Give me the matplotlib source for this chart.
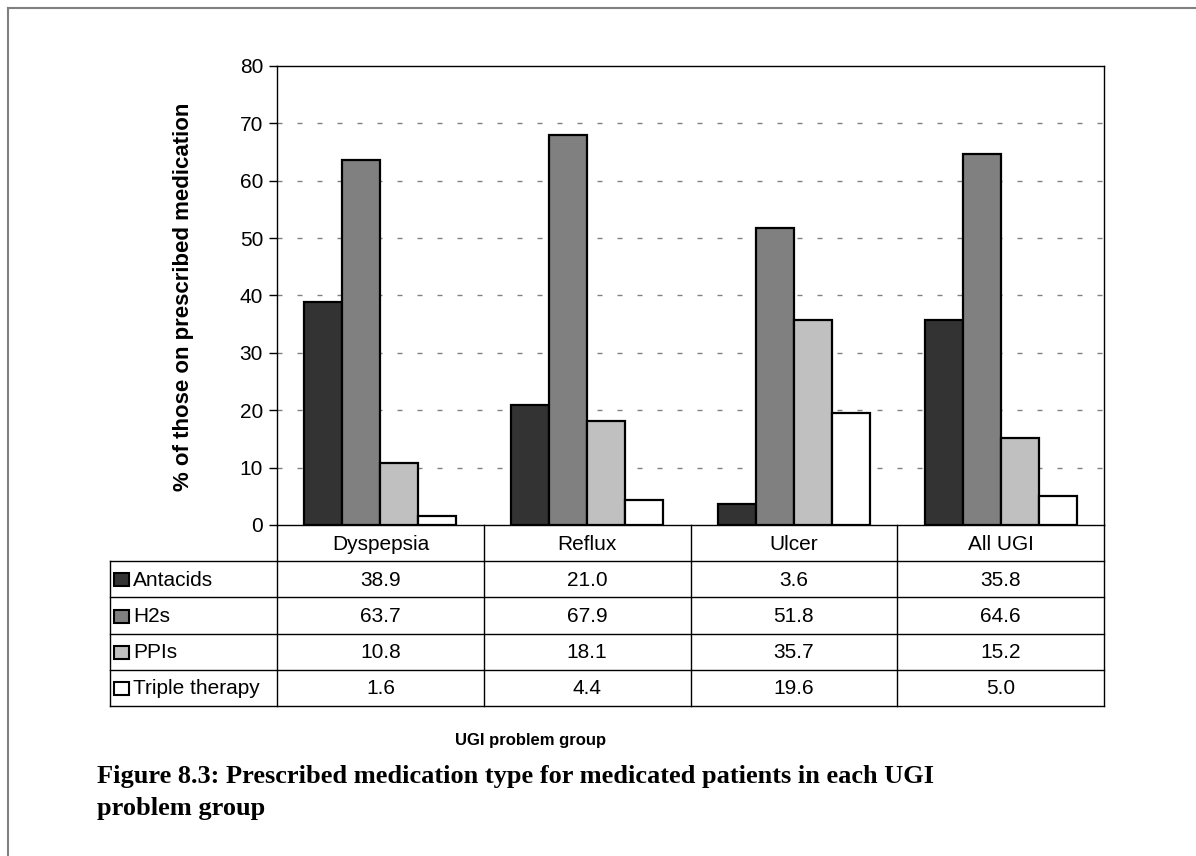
import numpy as np
import matplotlib.pyplot as plt

# data
groups = ["Dyspepsia", "Reflux", "Ulcer", "All UGI"]
series = ["Antacids", "H2s", "PPIs", "Triple therapy"]
antacids = [38.9, 21.0, 3.6, 35.8]
h2s = [63.7, 67.9, 51.8, 64.6]
ppis = [10.8, 18.1, 35.7, 15.2]
triple = [1.6, 4.4, 19.6, 5.0]
values = [antacids, h2s, ppis, triple]
colors = ["#333333", "#808080", "#c0c0c0", "#ffffff"]
caption = ["Figure 8.3: Prescribed medication type for medicated patients in each UGI",
           "problem group"]

plt.rcParams['font.family'] = ['Liberation Sans', 'DejaVu Sans']

W, H = 1196, 856
fig = plt.figure(figsize=(W / 100, H / 100), dpi=100)

# layout in pixels
ax_l, ax_r, ax_t, ax_b = 277, 1104, 66, 525
tab_l = 110
row_h = 36.2

ax = fig.add_axes([ax_l / W, 1 - ax_b / H, (ax_r - ax_l) / W, (ax_b - ax_t) / H])
x = np.arange(len(groups))
w = 0.184
for i, (name, vals) in enumerate(zip(series, values)):
    ax.bar(x + (i - 1.5) * w, vals, w, color=colors[i], edgecolor="black",
           linewidth=1.6, label=name, zorder=3)

ax.set_xlim(-0.5, len(groups) - 0.5)
ax.set_ylim(0, 80)
ax.set_yticks(range(0, 81, 10))
ax.tick_params(axis="y", direction="out", length=6, width=1, labelsize=15, pad=4)
ax.set_xticks([])
for y in range(10, 80, 10):
    ax.axhline(y, color="#808080", linewidth=1, linestyle=(0, (3.6, 10.8)), zorder=1)
for s in ax.spines.values():
    s.set_linewidth(1)
    s.set_color("black")

# overlay for table, caption, border
ov = fig.add_axes([0, 0, 1, 1], zorder=5)
ov.set_xlim(0, W)
ov.set_ylim(H, 0)
ov.axis("off")

ov.text(184, 297, "% of those on prescribed medication", rotation=90, ha="center",
        va="center", fontsize=16, fontweight="bold")

col_w = (ax_r - ax_l) / len(groups)
col_x = [ax_l + k * col_w for k in range(len(groups) + 1)]
tab_b = ax_b + row_h * (len(series) + 1)
lc = "black"
# vertical lines
for cx in col_x:
    ov.plot([cx, cx], [ax_b, tab_b], color=lc, linewidth=1)
ov.plot([tab_l, tab_l], [ax_b + row_h, tab_b], color=lc, linewidth=1)
# horizontal lines
for r in range(1, len(series) + 2):
    y = ax_b + r * row_h
    ov.plot([tab_l, ax_r], [y, y], color=lc, linewidth=1)

for k, g in enumerate(groups):
    ov.text(col_x[k] + col_w / 2, ax_b + row_h / 2 + 1, g, ha="center", va="center", fontsize=15)

for r, (name, vals) in enumerate(zip(series, values)):
    yc = ax_b + (r + 1.5) * row_h + 1
    ov.add_patch(plt.Rectangle((tab_l + 4, yc - 7), 15, 13, facecolor=colors[r],
                               edgecolor="black", linewidth=1.5))
    ov.text(tab_l + 23, yc, name, ha="left", va="center", fontsize=15)
    for k, v in enumerate(vals):
        ov.text(col_x[k] + col_w / 2, yc, f"{v:.1f}", ha="center", va="center", fontsize=15)

ov.text(531, 741, "UGI problem group", ha="center", va="center", fontsize=12, fontweight="bold")
for j, line in enumerate(caption):
    ov.text(97, 783 + 32 * j, line, ha="left", va="baseline", fontsize=19,
            fontweight="bold", family="Liberation Serif")

# outer border
ov.plot([8, W], [8, 8], color="#808080", linewidth=1.5)
ov.plot([8, 8], [8, H], color="#808080", linewidth=1.5)

fig.savefig("out.png", dpi=100)
